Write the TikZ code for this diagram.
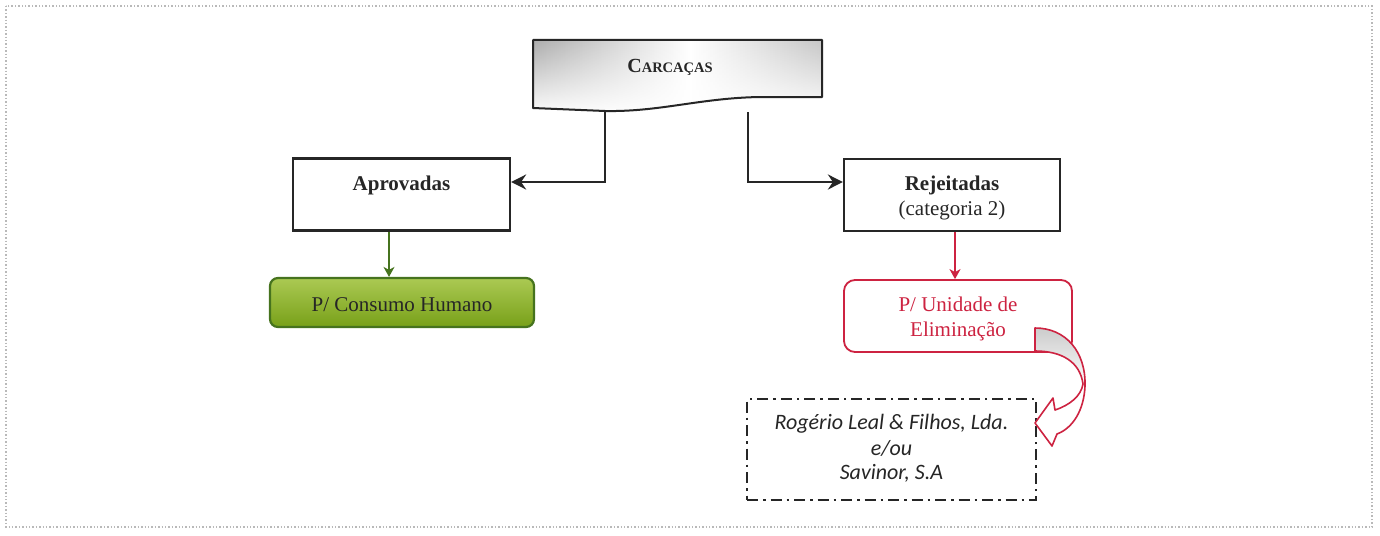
\documentclass[tikz,border=0pt]{standalone}
\usepackage{fontspec}
\setmainfont{Liberation Serif}
\newfontfamily\carl{Carlito}
\usetikzlibrary{arrows.meta,calc,fadings}

\definecolor{inkgray}{HTML}{262626}
\definecolor{leafgreen}{RGB}{150,188,40}
\definecolor{leafdark}{RGB}{120,160,25}
\definecolor{leafedge}{RGB}{70,115,30}
\definecolor{crimson}{RGB}{205,35,65}

\tikzset{
  plainbox/.style={draw=inkgray, line width=2.2pt, fill=white, minimum width=217pt, minimum height=72pt, inner sep=0pt},
  greenbox/.style={draw=leafedge, line width=2.2pt, rounded corners=8pt, top color=leafgreen!80!white, bottom color=leafdark, minimum width=264pt, minimum height=49pt, inner sep=0pt},
  redbox/.style={draw=crimson, line width=1.8pt, rounded corners=11pt, fill=white, minimum width=228pt, minimum height=72pt, inner sep=0pt},
  firmbox/.style={draw=inkgray, line width=2.6pt, dash pattern=on 11pt off 5pt on 2.5pt off 5pt, minimum width=289pt, minimum height=101pt, inner sep=0pt},
  conn/.style={draw=inkgray, line width=2.4pt, -{Stealth[length=15pt,width=15pt,inset=5pt]}},
  greenconn/.style={draw=leafedge, line width=1.4pt, -{Stealth[length=10pt,width=11pt,inset=3pt]}},
  redconn/.style={draw=crimson, line width=1.8pt, -{Stealth[length=10pt,width=11pt,inset=3pt]}},
  txt/.style={anchor=base, inner sep=0pt, font=\fontsize{21}{25}\selectfont, text=inkgray},
  headshape/.style={insert path={(533,40) -- (822,40) -- (822,97) -- (760,97)
    .. controls (700,98) and (660,112) .. (605,111) -- (533,108) -- cycle}},
  bendarrow/.style={insert path={(1035,328) .. controls (1066,328) and (1086,352) .. (1085,386)
    .. controls (1084,410) and (1073,428) .. (1057,434)
    -- (1052,446) -- (1035,423) -- (1053,398) -- (1055,410)
    .. controls (1070,405) and (1081,396) .. (1083,384)
    .. controls (1080,362) and (1062,351) .. (1035,351) -- cycle}},
}

\begin{document}
\begin{tikzpicture}[x=1pt,y=-1pt]
  \useasboundingbox (0,0) rectangle (1380,535);
  \fill[white] (0,0) rectangle (1380,535);
  % dotted page frame
  \draw[gray!55, line width=1.4pt, dotted] (6,6) rectangle (1372,527);

  % document-shaped heading box: grey at the sides, fading to white below
  \begin{scope}
    \clip[headshape];
    \shade[left color=gray!65, right color=white] (533,30) rectangle (690,115);
    \shade[left color=white, right color=gray!45] (690,30) rectangle (823,115);
    \fill[white, path fading=north] (533,40) rectangle (823,115);
  \end{scope}
  \draw[inkgray, line width=2pt, line join=round, headshape];
  \node[anchor=base, inner sep=0pt, text=inkgray] (carc) at (670,72)
    {\bfseries\fontsize{20}{24}\selectfont C\fontsize{14.5}{24}\selectfont ARCAÇAS};

  % boxes
  \node[plainbox] (aprov) at (401.5,194.5) {};
  \node[txt, font=\bfseries\fontsize{21}{25}\selectfont] (aprovT) at (401.5,190) {Aprovadas};

  \node[plainbox, minimum width=216pt] (rej) at (952,195) {};
  \node[txt, font=\bfseries\fontsize{21}{25}\selectfont] (rejT) at (952,190) {Rejeitadas};
  \node[txt] (rejC) at (952,215) {(categoria 2)};

  \node[greenbox] (cons) at (402,302.5) {};
  \node[txt] (consT) at (402,311) {P/ Consumo Humano};

  \node[redbox] (elim) at (958,316) {};
  \node[txt, text=crimson] (elimA) at (958,311) {P/ Unidade de};
  \node[txt, text=crimson] (elimB) at (958,336) {Eliminação};

  \node[firmbox] (firms) at (891.5,449.5) {};
  \node[txt, font=\carl\itshape\fontsize{22}{25}\selectfont] (f1) at (891.5,429) {Rogério Leal \& Filhos, Lda.};
  \node[txt, font=\carl\itshape\fontsize{22}{25}\selectfont] (f2) at (891.5,455) {e/ou};
  \node[txt, font=\carl\itshape\fontsize{22}{25}\selectfont] (f3) at (891.5,479) {Savinor, S.A};

  % connectors from the heading
  \coordinate (cL) at (605,111);
  \coordinate (cR) at (748,112);
  \coordinate (aIn) at (aprov.east |- 0,182);
  \coordinate (rIn) at (rej.west |- 0,182);
  \draw[conn] (cL) |- (aIn);
  \draw[conn] (cR) |- (rIn);

  % downward connectors
  \coordinate (gx) at (389,0);
  \coordinate (rx) at (955,0);
  \draw[greenconn] (aprov.south -| gx) -- (cons.north -| gx);
  \draw[redconn] (rej.south -| rx) -- (elim.north -| rx);

  % curved block arrow towards the receiving firms
  \shade[top color=gray!40, bottom color=white, middle color=white, bendarrow];
  \draw[crimson, line width=1.6pt, line join=round, bendarrow];
\end{tikzpicture}
\end{document}
